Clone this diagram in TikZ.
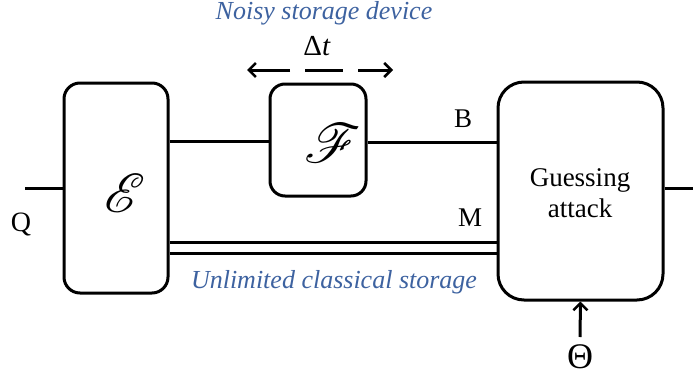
\documentclass[tikz,border=0pt]{standalone}
\usepackage{fontspec}
\setmainfont{Liberation Serif}
\usepackage{graphicx}
\IfFileExists{mathrsfs.sty}{\usepackage{mathrsfs}}{\newcommand\mathscr{\mathcal}}
\usetikzlibrary{arrows.meta}
\definecolor{noteblue}{HTML}{3D62A0}
\begin{document}
\begin{tikzpicture}[x=1pt,y=-1pt,
  blk/.style={draw=black,line width=3pt,fill=white,inner sep=0pt},
  wire/.style={line width=3pt},
  note/.style={text=noteblue,font=\fontsize{26}{30}\selectfont\itshape},
  lbl/.style={font=\fontsize{27}{31}\selectfont},
  hd/.style={-{Straight Barb[length=7pt,width=14pt,line width=2.5pt]}}]
\useasboundingbox (0,0) rectangle (693,380);
% boxes
\node[blk,rounded corners=16pt,minimum width=104pt,minimum height=210pt] (E) at (116,188) {};
\node[blk,rounded corners=15pt,minimum width=96pt,minimum height=112pt] (F) at (318,140) {};
\node[blk,rounded corners=26pt,minimum width=165pt,minimum height=218pt] (G) at (580.5,191) {};
\node[inner sep=0pt] (Es) at (125,193) {\scalebox{5.5}{$\mathscr{E}$}};
\node[inner sep=0pt] (Fs) at (333,143) {\scalebox{5.5}{$\mathscr{F}$}};
\node[lbl,align=center] (Gt) at (580,193) {Guessing\\attack};
% coordinates
\coordinate (qin) at (25,188);
\coordinate (gout) at (693,188);
\coordinate (th) at (580,337);
% wires
\draw[wire] (qin) -- (qin -| E.west);
\draw[wire] (E.east |- 0,141) -- (F.west |- 0,141);
\draw[wire] (F.east |- 0,142) -- (G.west |- 0,142);
\draw[wire] (E.east |- 0,242) -- (G.west |- 0,242);
\draw[wire] (E.east |- 0,253) -- (G.west |- 0,253);
\draw[wire] (G.east |- gout) -- (gout);
\draw[wire,hd] (th) -- (G.south);
% labels
\node[font=\fontsize{28}{32}\selectfont] (Q) at (21,224) {Q};
\node[lbl] (B) at (463,119) {B};
\node[lbl] (M) at (470,218) {M};
\node[font=\fontsize{36}{40}\selectfont] (Th) at (580,357) {Θ};
\node[note] (noisy) at (324,13) {Noisy storage device};
\node[note] (unl) at (334,282) {Unlimited classical storage};
\node[font=\fontsize{29}{32}\selectfont] (dt) at (317,46) {Δ\textit{t}};
% delta t arrows
\coordinate (la) at (290,70);
\coordinate (lb) at (247,70);
\coordinate (ma) at (305,70);
\coordinate (mb) at (343,70);
\coordinate (ra) at (358,70);
\coordinate (rb) at (393,70);
\draw[wire,hd] (la) -- (lb);
\draw[wire] (ma) -- (mb);
\draw[wire,hd] (ra) -- (rb);
\end{tikzpicture}
\end{document}
